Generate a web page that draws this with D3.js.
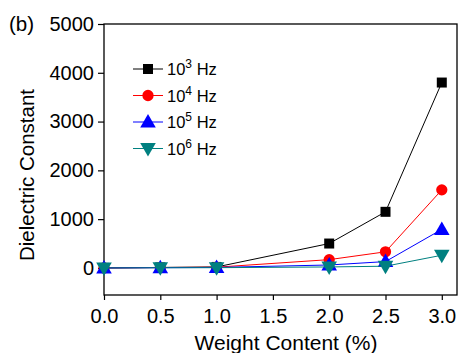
<!DOCTYPE html>
<html>
<head>
<meta charset="utf-8">
<script src="https://cdn.jsdelivr.net/npm/d3@7"></script>
<style>
  body { margin: 0; background: #fff; }
  svg text { font-family: "Liberation Sans", Arial, sans-serif; fill: #000; }
</style>
</head>
<body>
<svg id="chart" width="458" height="353"></svg>
<script>
// data
var weightContent = [0.0, 0.5, 1.0, 2.0, 2.5, 3.0];
var hz1e3 = [0, 10, 20, 500, 1150, 3800];
var hz1e4 = [0, 8, 15, 170, 330, 1600];
var hz1e5 = [0, 5, 10, 60, 130, 790];
var hz1e6 = [0, 3, 5, 20, 35, 260];
var seriesNames = ["3", "4", "5", "6"];
var xTicks = [0.0, 0.5, 1.0, 1.5, 2.0, 2.5, 3.0];
var yTicks = [0, 1000, 2000, 3000, 4000, 5000];

var series = [
  { exp: seriesNames[0], values: hz1e3, color: "#000000", shape: "square" },
  { exp: seriesNames[1], values: hz1e4, color: "#ff0000", shape: "circle" },
  { exp: seriesNames[2], values: hz1e5, color: "#0000ff", shape: "up" },
  { exp: seriesNames[3], values: hz1e6, color: "#008080", shape: "down" }
];

var svg = d3.select("#chart");
var plotLeft = 104, plotRight = 457, plotTop = 24, plotBottom = 295;

var x = d3.scaleLinear().domain([0, 3.135]).range([plotLeft, plotRight]);
var y = d3.scaleLinear().domain([-555, 5000]).range([plotBottom, plotTop]);

// frame
svg.append("rect")
  .attr("x", plotLeft).attr("y", plotTop)
  .attr("width", plotRight - plotLeft).attr("height", plotBottom - plotTop)
  .attr("fill", "none").attr("stroke", "#000").attr("stroke-width", 1.3);

var xAxis = svg.append("g")
  .attr("transform", "translate(0," + plotBottom + ")")
  .call(d3.axisBottom(x).tickValues(xTicks).tickFormat(d3.format(".1f")).tickSizeOuter(0).tickSize(5).tickPadding(5));
var yAxis = svg.append("g")
  .attr("transform", "translate(" + plotLeft + ",0)")
  .call(d3.axisLeft(y).tickValues(yTicks).tickFormat(d3.format("d")).tickSizeOuter(0).tickSize(6).tickPadding(4));

[xAxis, yAxis].forEach(function(a){
  a.select(".domain").remove();
  a.selectAll("line").attr("stroke", "#000").attr("stroke-width", 1.2);
  a.selectAll("text").style("font-size", "20px").attr("fill", "#000")
    .style("font-family", "'Liberation Sans', Arial, sans-serif");
});
xAxis.selectAll("text").attr("dy", "0.9em");

var symbolFor = function(shape, size){
  if (shape == "square") return d3.symbol().type(d3.symbolSquare).size(size)();
  if (shape == "circle") return d3.symbol().type(d3.symbolCircle).size(size)();
  return d3.symbol().type(d3.symbolTriangle).size(size * 1.05)();
};

var markTransform = function(shape, cx, cy){
  var dy = shape == "up" ? 1 : shape == "down" ? -1 : 0;
  return "translate(" + cx + "," + (cy + dy) + ")" + (shape == "down" ? " rotate(180)" : "");
};

var line = d3.line()
  .x(function(d, i){ return x(weightContent[i]); })
  .y(function(d){ return y(d); });

var plot = svg.append("g");
series.forEach(function(s){
  plot.append("path")
    .attr("d", line(s.values))
    .attr("fill", "none")
    .attr("stroke", s.color)
    .attr("stroke-width", 1);
  s.values.forEach(function(v, i){
    plot.append("path")
      .attr("d", symbolFor(s.shape, 100))
      .attr("transform", markTransform(s.shape, x(weightContent[i]), y(v)))
      .attr("fill", s.color);
  });
});

// legend
var legend = svg.append("g");
series.forEach(function(s, i){
  var ly = 69 + i * 26.5;
  legend.append("line")
    .attr("x1", 133).attr("x2", 163).attr("y1", ly).attr("y2", ly)
    .attr("stroke", s.color).attr("stroke-width", 1);
  legend.append("path")
    .attr("d", symbolFor(s.shape, 100))
    .attr("transform", markTransform(s.shape, 148, ly))
    .attr("fill", s.color);
  var t = legend.append("text")
    .attr("x", 167).attr("y", ly + 6)
    .style("font-size", "16.5px");
  t.append("tspan").text("10");
  t.append("tspan").attr("dy", -7).style("font-size", "12px").text(s.exp);
  t.append("tspan").attr("dy", 7).text(" Hz");
});

// labels
svg.append("text")
  .attr("x", 286).attr("y", 350)
  .attr("text-anchor", "middle")
  .style("font-size", "21px")
  .text("Weight Content (%)");

svg.append("text")
  .attr("transform", "translate(34,175) rotate(-90)")
  .attr("text-anchor", "middle")
  .style("font-size", "20.5px")
  .text("Dielectric Constant");

svg.append("text")
  .attr("x", 9).attr("y", 31)
  .style("font-size", "20.5px")
  .text("(b)");
</script>
</body>
</html>
